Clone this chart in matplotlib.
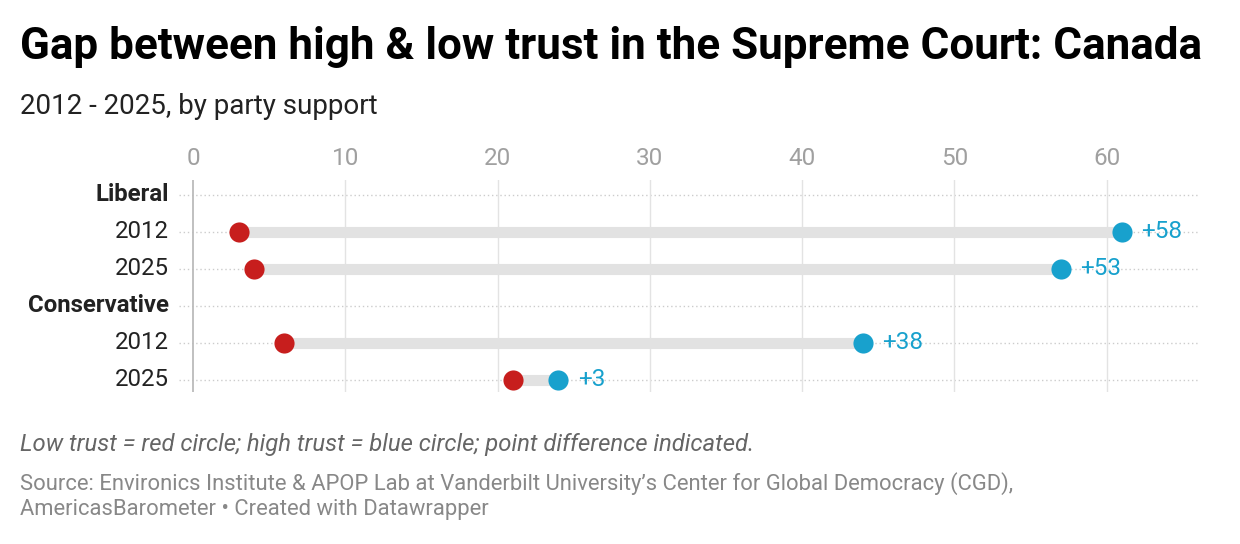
import matplotlib
matplotlib.use("Agg")
import matplotlib.pyplot as plt
from matplotlib.transforms import blended_transform_factory

# ── Data ─────────────────────────────────────────────────────────────────────
ROW_LABELS = ["Liberal", "2012", "2025", "Conservative", "2012", "2025"]
ROW_BOLD   = [True, False, False, True, False, False]
LOW_TRUST  = [None, 3, 4, None, 6, 21]
HIGH_TRUST = [None, 61, 57, None, 44, 24]
X_TICKS    = [0, 10, 20, 30, 40, 50, 60]

TITLE    = "Gap between high & low trust in the Supreme Court: Canada"
SUBTITLE = "2012 - 2025, by party support"
NOTE     = "Low trust = red circle; high trust = blue circle; point difference indicated."
SOURCE   = ("Source: Environics Institute & APOP Lab at Vanderbilt University\u2019s "
            "Center for Global Democracy (CGD),\nAmericasBarometer \u2022 Created with Datawrapper")

RED, BLUE = "#c71e1d", "#18a1cd"
W, H = 1240, 544

plt.rcParams["font.family"] = ["Roboto", "DejaVu Sans"]

fig = plt.figure(figsize=(W / 100, H / 100), dpi=100)
# axes box in pixel terms: x from 179 to 1198, y from 180 to 392
ax = fig.add_axes([179 / W, 1 - 392 / H, (1198 - 179) / W, (392 - 180) / H])

n = len(ROW_LABELS)
ax.set_xlim(-0.92, 66)
ax.set_ylim(n - 1 + 0.33, -0.40)

for x in X_TICKS:
    ax.axvline(x, color="#bbbbbb" if x == 0 else "#e3e3e3", lw=1.3 if x == 0 else 1.0, zorder=1)
for i in range(n):
    ax.axhline(i, color="#cccccc", lw=1.0, ls=(0, (1, 2)), zorder=0)

for i, (lo, hi) in enumerate(zip(LOW_TRUST, HIGH_TRUST)):
    if lo is None:
        continue
    ax.plot([lo, hi], [i, i], color="#e2e2e2", lw=8, solid_capstyle="butt", zorder=2)
    ax.plot(lo, i, "o", ms=14.5, color=RED, mec="none", zorder=3)
    ax.plot(hi, i, "o", ms=14.5, color=BLUE, mec="none", zorder=3)
    ax.annotate(f"+{hi - lo}", (hi, i), xytext=(14, 0), textcoords="offset points",
                va="center", ha="left", color=BLUE, fontsize=17.5)

for s in ax.spines.values():
    s.set_visible(False)
ax.set_yticks([])
ax.xaxis.tick_top()
ax.set_xticks(X_TICKS)
ax.tick_params(axis="x", length=0, pad=7, labelsize=17.5, labelcolor="#a0a0a0")

label_tf = blended_transform_factory(fig.transFigure, ax.transData)
for i, (lab, bold) in enumerate(zip(ROW_LABELS, ROW_BOLD)):
    ax.text(169 / W, i, lab, transform=label_tf, ha="right", va="center",
            fontsize=17.3, color="#222222", fontweight="bold" if bold else "normal")

fig.text(20 / W, 1 - 47 / H, TITLE, fontsize=31.7, fontweight="bold", va="center", ha="left",
         color="#000000")
fig.text(20 / W, 1 - 106 / H, SUBTITLE, fontsize=20, va="center", ha="left", color="#222222")
fig.text(20 / W, 1 - 445 / H, NOTE, fontsize=17.2, style="italic", va="center", ha="left",
         color="#666666")
fig.text(20 / W, 1 - 496 / H, SOURCE, fontsize=15.8, va="center", ha="left", color="#888888",
         linespacing=1.25)

fig.savefig("out.png", dpi=100)
